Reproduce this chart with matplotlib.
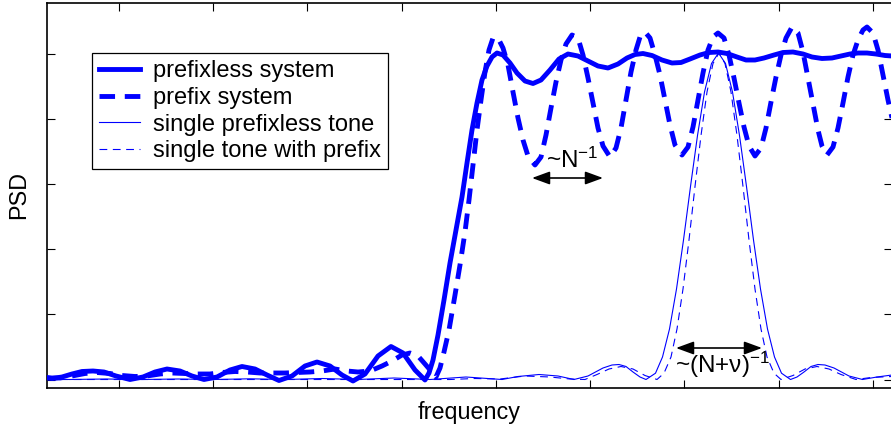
import matplotlib
matplotlib.use("Agg")
import matplotlib.pyplot as plt
from matplotlib.lines import Line2D

plt.rcParams['font.family'] = ['Liberation Sans', 'DejaVu Sans']
plt.rcParams['mathtext.fontset'] = 'custom'
plt.rcParams['mathtext.rm'] = 'Liberation Sans'
plt.rcParams['mathtext.it'] = 'Liberation Sans:italic'
plt.rcParams['mathtext.bf'] = 'Liberation Sans:bold'
plt.rcParams['mathtext.default'] = 'regular'

# ---------------- data (frequency in arbitrary bins, PSD in arbitrary units) ----------------
sys_f = [47, 52, 62, 72, 82, 93, 104, 116, 130, 143, 155, 167, 180, 192, 204, 217, 230, 242, 255,
         267, 279, 292, 305, 317, 330, 342, 353, 365, 378, 391, 403, 415, 425, 429, 433, 438, 444,
         450, 456, 462, 467, 472, 477, 482, 487, 492, 497, 503, 510, 517, 525, 533, 541, 550, 559,
         568, 578, 588, 598, 608, 618, 627, 635, 643, 652, 662, 672, 681, 690, 700, 709, 718, 727,
         737, 746, 755, 764, 774, 783, 793, 803, 812, 822, 832, 841, 850, 858, 867, 876, 885, 892]
sys_psd = [2, 1, 2.5, 5.5, 8, 8.5, 7.5, 3.5, 0, 2.5, 7.5, 10.5, 8.5, 3.5, 0, 2.5, 9.5, 13, 10.5,
           4.5, -1, 3.5, 13.5, 17.5, 13.5, 4.5, -1.5, 5.5, 23.5, 33, 26.5, 9.5, -0.5, 6.5, 19.5, 44.5, 79.5,
           116.5, 149.5, 182.5, 216.5, 249.5, 276.5, 299.5, 313.5, 322.5, 326.5, 324.5, 316.5, 306.5, 298.5, 296, 299.5, 309.5, 320.5,
           325.5, 323.5, 318.5, 313.5, 311.5, 315.5, 321.5, 325, 326, 324, 319.5, 316.5, 317, 320.5, 324.5, 327, 327.5, 326,
           322.5, 319.5, 319.5, 321.5, 324.5, 327, 327.5, 325.5, 322.5, 321, 321.5, 323.5, 325.5, 326.5, 326.5, 325.5, 324, 323.5]

pre_f = [47, 60, 72, 85, 97, 110, 122, 135, 147, 160, 172, 185, 197, 210, 222, 235, 247, 260, 272,
         285, 297, 310, 322, 335, 347, 358, 370, 382, 392, 402, 410, 418, 425, 431, 436, 440, 444,
         449, 455, 460, 465, 469, 473, 477, 481, 485, 489, 493, 498, 503, 508, 513, 518, 523, 528,
         535, 541, 546, 551, 556, 561, 566, 572, 578, 583, 588, 593, 598, 603, 610, 616, 621, 626,
         631, 636, 640, 645, 650, 655, 660, 665, 670, 675, 682, 688, 693, 698, 703, 708, 713, 718,
         724, 729, 734, 739, 744, 749, 755, 761, 766, 771, 776, 781, 786, 792, 798, 803, 808, 813,
         818, 822, 827, 833, 838, 843, 848, 853, 858, 863, 867, 873, 878, 883, 888, 892]
pre_psd = [1.5, 1.5, 3.5, 6, 7, 6, 4, 3, 3.5, 5.5, 6.5, 6, 5.5, 5.5, 7, 8, 7.5, 6.5, 6.5,
           6.5, 7, 7.5, 8.5, 10.5, 8.5, 7.5, 8.5, 13.5, 18.5, 24.5, 26.5, 23.5, 15.5, 8.5, 2.5, 11.5, 27.5,
           49.5, 84.5, 114.5, 147.5, 179.5, 214.5, 249.5, 279.5, 307.5, 329.5, 341.5, 341.5, 331.5, 314.5, 287.5, 261.5, 239.5, 223.5,
           214.5, 222.5, 244.5, 271.5, 297.5, 319.5, 335.5, 344.5, 341.5, 324.5, 301.5, 276.5, 251.5, 233.5, 222.5, 231.5, 251.5, 279.5,
           307.5, 329.5, 342.5, 347.5, 341.5, 324.5, 304.5, 279.5, 254.5, 234.5, 224.5, 232.5, 252.5, 279.5, 306.5, 329.5, 342.5, 346.5,
           341.5, 324.5, 301.5, 276.5, 252.5, 233.5, 223.5, 231.5, 251.5, 277.5, 302.5, 324.5, 341.5, 352.5, 346.5, 327.5, 301.5, 275.5,
           249.5, 233.5, 224.5, 232.5, 251.5, 276.5, 302.5, 324.5, 339.5, 349.5, 352.5, 346.5, 329.5, 304.5, 279.5, 261.5]

tone_f = [47, 70, 106, 142, 178, 214, 250, 286, 322, 358, 394, 430, 466, 502, 518, 539, 558, 574,
          588, 603, 612, 619, 626, 633, 640, 646, 655.5, 662.5, 669.5, 676.5, 683.5, 690.5, 697.5,
          704.5, 711.5, 718.5, 725.5, 732.5, 739.5, 746.5, 753.5, 760.5, 767.5, 774.5, 781.5, 790.5,
          797, 804, 811, 818, 825, 834, 849, 862.5, 877, 892]
tone_psd = [0.5, 0, 0.5, 0, 0.5, 0, 0.7, 0, 1, 0, 1.5, 0, 2.5, 0, 3, 5, 3.5, 0,
            3.5, 11.5, 14.5, 15, 13, 7.5, 2.5, 0, 6.3, 22.5, 50.5, 90.5, 139.5, 193, 244,
            287.5, 316, 326.5, 316, 287.5, 244, 193, 139.5, 90.5, 50.5, 22.5, 6.3, 0,
            2.5, 7.5, 13, 15, 14.5, 11.5, 3.5, 0, 2.5, 4.5]

ptone_f = [47, 150, 250, 350, 450, 475, 500, 525, 550, 570, 585, 597, 609, 621, 633, 645, 657,
           664, 671, 677, 683, 689, 695, 701, 707, 713, 719, 725, 731, 737, 743, 749, 755, 761,
           767, 774, 781, 793, 805, 817, 829, 841, 856, 871, 892]
ptone_psd = [0, 0, 0, 0, 0, 1, 0.5, 3.5, 2.5, 0.5, 0, 5, 10.5, 13, 10.5, 4, 0,
             6.3, 22.5, 50.5, 90.5, 139.5, 193, 244, 287.5, 316, 326.5, 316, 287.5, 244, 193, 139.5, 90.5, 50.5,
             22.5, 6.3, 0, 4, 10.5, 13, 10.5, 5, 0, 2, 3]

labels = ['prefixless system', 'prefix system', 'single prefixless tone', 'single tone with prefix']

# ---------------- figure ----------------
W, H = 891, 433
fig = plt.figure(figsize=(W / 100, H / 100), dpi=100)
ax = fig.add_axes([47 / W, (H - 387.7) / H, 845 / W, 385 / H])

blue = '#0000ff'
thin_dash = (0, (7, 5))
thick_dash = (0, (3.2, 2.0))
ax.plot(tone_f, tone_psd, color=blue, lw=0.8, label=labels[2], zorder=2)
ax.plot(ptone_f, ptone_psd, color=blue, lw=0.8, ls=thin_dash, label=labels[3], zorder=2)
ax.plot(pre_f, pre_psd, color=blue, lw=3.5, ls=thick_dash, label=labels[1], zorder=3)
ax.plot(sys_f, sys_psd, color=blue, lw=3.5, solid_joinstyle='round', label=labels[0], zorder=4)

ax.set_xlim(47, 892)
ax.set_ylim(-8.2, 376.8)
ax.set_xticks([119 + 94.22 * k for k in range(9)])
ax.set_yticks([65.2 * k for k in range(6)])
ax.tick_params(direction='in', length=5.5, width=0.8, top=True, right=True,
               labelleft=False, labelbottom=False)
for s in ax.spines.values():
    s.set_linewidth(1.2)

fs = 16.8
ax.set_xlabel('frequency', fontsize=fs)
ax.set_ylabel('PSD', fontsize=fs)
ax.xaxis.set_label_coords(0.5, -0.035)
ax.yaxis.set_label_coords(-0.020, 0.5)

handles = [
    Line2D([], [], color=blue, lw=3.5),
    Line2D([], [], color=blue, lw=3.5, ls=thick_dash),
    Line2D([], [], color=blue, lw=0.8),
    Line2D([], [], color=blue, lw=0.8, ls=thin_dash),
]
leg = ax.legend(handles, labels, loc='upper left',
                bbox_to_anchor=((92 - 47) / 845, (387.7 - 53) / 385),
                borderaxespad=0, fontsize=17, frameon=True, fancybox=False,
                edgecolor='black', framealpha=1, borderpad=0.3, labelspacing=0.2,
                handlelength=1.75, handletextpad=0.55)
leg.get_frame().set_linewidth(0.9)

arrow = dict(arrowstyle='<|-|>,head_length=0.6,head_width=0.22', mutation_scale=18,
             color='black', lw=1.2, shrinkA=0, shrinkB=0)
ax.annotate('', xy=(532, 201.5), xytext=(603, 201.5), arrowprops=arrow)
ax.annotate('', xy=(676, 31.5), xytext=(762, 31.5), arrowprops=arrow)
ax.text(546, 211.5, '~$N^{-1}$', fontsize=17.5, ha='left', va='baseline')
ax.text(675, 6.5, '~(N+ν$)^{-1}$', fontsize=17.5, ha='left', va='baseline')

fig.savefig('out.png', dpi=100)
